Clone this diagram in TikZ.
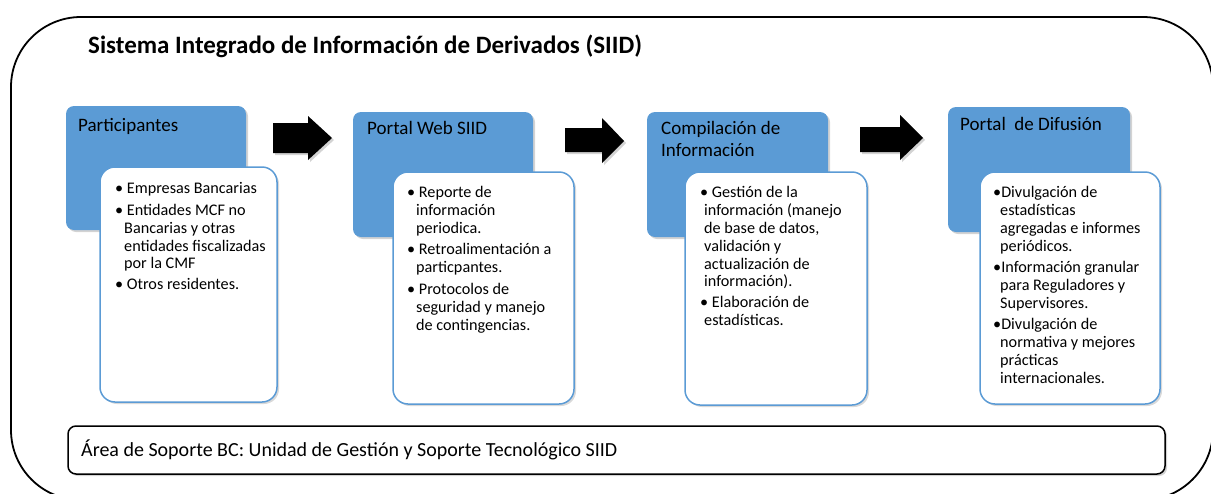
\documentclass[tikz,border=0pt]{standalone}
\usepackage{fontspec}
\setmainfont{Carlito}
\usetikzlibrary{shadows}
\definecolor{boxblue}{RGB}{91,155,213}
\tikzset{
  bluebox/.style={fill=boxblue, draw=none, rounded corners=8pt,
    drop shadow={opacity=0.35, shadow xshift=2pt, shadow yshift=-2pt}},
  whitebox/.style={fill=white, draw=boxblue, line width=1.5pt, rounded corners=15pt,
    drop shadow={opacity=0.3, shadow xshift=2pt, shadow yshift=-2pt}},
  blocktip/.style={fill=black, draw=none,
    drop shadow={opacity=0.35, shadow xshift=2pt, shadow yshift=-2pt}},
  headtext/.style={anchor=north west, inner sep=0pt, align=left,
    font=\fontsize{19}{22.5}\selectfont},
  bodytext/.style={anchor=north west, inner sep=0pt, align=left,
    font=\fontsize{16.2}{17.9}\selectfont},
  supportbox/.style={fill=white, draw=black, line width=1.5pt, rounded corners=8pt,
    drop shadow={opacity=0.35, shadow xshift=2pt, shadow yshift=-2pt}},
}
\newcommand{\cont}{\hspace*{9pt}}
\begin{document}
\begin{tikzpicture}[x=1pt,y=-1pt]
\useasboundingbox (0,0) rectangle (1211,493);
% outer frame
\draw[line width=1.8pt, rounded corners=70pt] (11,17) rectangle (1213,500);
\node[anchor=west, inner sep=0pt, font=\fontsize{25}{29}\selectfont\bfseries] (title) at (88,46)
  {Sistema Integrado de Información de Derivados (SIID)};

% blue boxes
\path[bluebox] (66,106) rectangle (246,230);
\path[bluebox] (353,112) rectangle (533,237);
\path[bluebox] (647,112) rectangle (828,237);
\path[bluebox] (948,107) rectangle (1130,232);

\node[headtext] (h1) at (78,118) {Participantes};
\node[headtext] (h2) at (367,121) {Portal Web SIID};
\node[headtext] (h3) at (661,121) {Compilación de\\Información};
\node[headtext] (h4) at (960,117) {Portal\ \ de Difusión};

% white boxes
\path[whitebox] (100,167) rectangle (277,402);
\path[whitebox] (393,172) rectangle (574,404);
\path[whitebox] (685,172) rectangle (867,405);
\path[whitebox] (980,172) rectangle (1160,404);

\node[bodytext] (b1) at (115,182) {%
\textbullet\ Empresas Bancarias\\[4pt]
\textbullet\ Entidades MCF no\\
\cont Bancarias y otras\\
\cont entidades fiscalizadas\\
\cont por la CMF\\[3pt]
\textbullet\ Otros residentes.};

\node[bodytext] (b2) at (407,186) {%
\textbullet\ Reporte de\\
\cont información\\
\cont periodica.\\[3.5pt]
\textbullet\ Retroalimentación a\\
\cont particpantes.\\[4pt]
\textbullet\ Protocolos de\\
\cont seguridad y manejo\\
\cont de contingencias.};

\node[bodytext] (b3) at (700,186) {%
\textbullet\ Gestión de la\\
\hspace*{4pt}información (manejo\\
\hspace*{4pt}de base de datos,\\
\hspace*{4pt}validación y\\
\hspace*{4pt}actualización de\\
\hspace*{4pt}información).\\[3pt]
\textbullet\ Elaboración de\\
\hspace*{4pt}estadísticas.};

\node[bodytext] (b4) at (993,186) {%
\textbullet Divulgación de\\
\hspace*{7pt}estadísticas\\
\hspace*{7pt}agregadas e informes\\
\hspace*{7pt}periódicos.\\[3.5pt]
\textbullet Información granular\\
\hspace*{7pt}para Reguladores y\\
\hspace*{7pt}Supervisores.\\[3.5pt]
\textbullet Divulgación de\\
\hspace*{7pt}normativa y mejores\\
\hspace*{7pt}prácticas\\
\hspace*{7pt}internacionales.};

% block arrows
\path[blocktip] (273,123) -- (308,123) -- (308,116) -- (332,138) -- (308,160) -- (308,153) -- (273,153) -- cycle;
\path[blocktip] (565,128) -- (602,128) -- (602,118) -- (624,141) -- (602,163) -- (602,152) -- (565,152) -- cycle;
\path[blocktip] (860,127) -- (900,127) -- (900,115) -- (923,138) -- (900,160) -- (900,152) -- (860,152) -- cycle;

% support box
\path[supportbox] (68,426) rectangle (1165,474);
\node[anchor=west, inner sep=0pt, font=\fontsize{20}{24}\selectfont] (support) at (81,450)
  {Área de Soporte BC: Unidad de Gestión y Soporte Tecnológico SIID};
\end{tikzpicture}
\end{document}
